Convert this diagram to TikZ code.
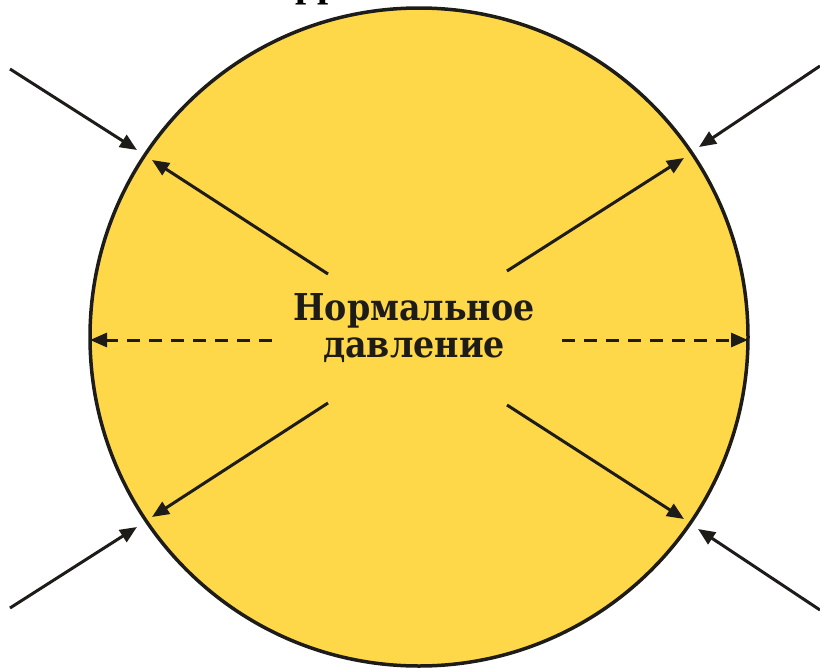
\documentclass[tikz,border=0pt]{standalone}
\usepackage{fontspec}
\setmainfont{DejaVu Serif}
\newfontfamily\labelfont{DejaVu Serif Condensed}
\newfontfamily\titlefont{Liberation Serif}
\usetikzlibrary{arrows.meta}
\definecolor{sun}{RGB}{254,216,72}
\definecolor{ink}{RGB}{30,28,24}
\tikzset{
  push/.style={draw=ink, line width=3pt, -{Triangle[length=17pt,width=14pt]}},
  pushdash/.style={push, dash pattern=on 13pt off 9pt},
}
\begin{document}
\begin{tikzpicture}[x=1pt,y=-1pt]
\useasboundingbox (0,0) rectangle (820,670);
\node[circle, draw=ink, line width=3.5pt, fill=sun, minimum size=658pt, inner sep=0pt] (c) at (419,337) {};
\node[font=\titlefont\bfseries\fontsize{40}{40}\selectfont, anchor=base] (title) at (318,-4) {рр};
\node[align=center, inner sep=0pt, text=ink, font=\labelfont\bfseries\fontsize{37}{37}\selectfont] (t) at (414,328) {Нормальное\\давление};
% inner arrow coordinates
\coordinate (ulS) at (328,274); \coordinate (ulE) at (152,160);
\coordinate (urS) at (507,271); \coordinate (urE) at (684,158);
\coordinate (llS) at (328,403); \coordinate (llE) at (152,517);
\coordinate (lrS) at (507,405); \coordinate (lrE) at (684,519);
\coordinate (lS) at (272,340); \coordinate (lE) at (90,340);
\coordinate (rS) at (562,340); \coordinate (rE) at (748,340);
% outer arrow coordinates
\coordinate (oulS) at (10,69); \coordinate (oulE) at (137,150);
\coordinate (ourS) at (820,66); \coordinate (ourE) at (699,147);
\coordinate (ollS) at (10,608); \coordinate (ollE) at (137,527);
\coordinate (olrS) at (820,610); \coordinate (olrE) at (698,529);
\draw[push] (ulS) -- (ulE);
\draw[push] (urS) -- (urE);
\draw[push] (llS) -- (llE);
\draw[push] (lrS) -- (lrE);
\draw[pushdash] (lS) -- (lE);
\draw[pushdash] (rS) -- (rE);
\draw[push] (oulS) -- (oulE);
\draw[push] (ourS) -- (ourE);
\draw[push] (ollS) -- (ollE);
\draw[push] (olrS) -- (olrE);
\end{tikzpicture}
\end{document}
